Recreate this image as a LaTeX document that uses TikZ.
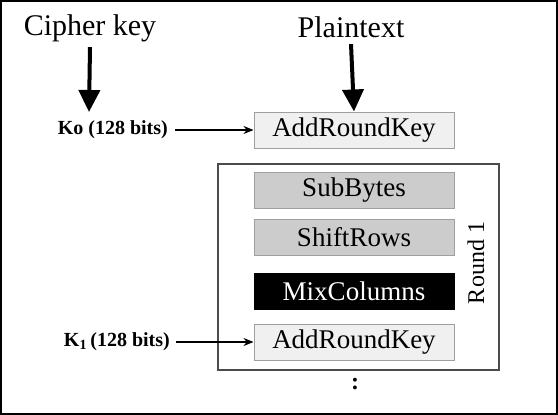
\documentclass[tikz,border=0pt]{standalone}
\usepackage{fontspec}
\setmainfont{Liberation Serif}
\usetikzlibrary{arrows.meta}

\tikzset{
  stagebox/.style={draw=gray!75, line width=1pt, minimum width=200pt, minimum height=36pt,
    inner sep=0pt, font=\fontsize{27}{27}\selectfont},
  keybox/.style={stagebox, fill=gray!12},
  bytebox/.style={stagebox, fill=gray!40},
  mixbox/.style={stagebox, fill=black, draw=black, text=white},
  bigarrow/.style={line width=4pt, -{Triangle[width=21pt,length=22pt]}},
  keyarrow/.style={line width=1.2pt, -{Stealth[width=8pt,length=10pt]}},
  keylabel/.style={anchor=east, inner sep=0pt, font=\fontsize{20}{20}\selectfont\bfseries},
  biglabel/.style={font=\fontsize{30}{30}\selectfont},
}

\begin{document}
\begin{tikzpicture}[x=1pt, y=-1pt]
  \useasboundingbox (0,0) rectangle (558,415);
  \draw[line width=2pt] (1,1) rectangle (557,414);

  % inputs
  \node[biglabel] (cipher) at (90,28) {Cipher key};
  \node[biglabel] (plain) at (351,27) {Plaintext};
  \coordinate (cipherend) at (89,112);

  % round box
  \node[draw=black!70, line width=1.5pt, minimum width=281pt, minimum height=206pt] (round) at (358.5,267) {};
  \node[rotate=90, font=\fontsize{24}{24}\selectfont] (roundlbl) at (476,263) {Round 1};

  % stages
  \node[keybox] (ark0) at (354,130) {AddRoundKey};
  \node[bytebox] (sub) at (354,190) {SubBytes};
  \node[bytebox] (shift) at (354,237.5) {ShiftRows};
  \node[mixbox] (mix) at (354,291.5) {MixColumns};
  \node[keybox] (ark1) at (354,342) {AddRoundKey};

  % round keys
  \node[keylabel] (k0) at (168,130) {Ko (128 bits)};
  \node[keylabel] (k1) at (170,342) {K\textsubscript{1}\,(128 bits)};

  \node[font=\fontsize{24}{24}\selectfont\bfseries] (dots) at (355,384) {:};

  % arrows
  \draw[bigarrow] ([yshift=-2pt]cipher.south) -- (cipherend);
  \draw[bigarrow] ([yshift=-3pt]plain.south) -- (ark0.north);
  \draw[keyarrow] ([xshift=7pt]k0.east) -- (ark0.west);
  \draw[keyarrow] ([xshift=6pt]k1.east) -- (ark1.west);
\end{tikzpicture}
\end{document}
